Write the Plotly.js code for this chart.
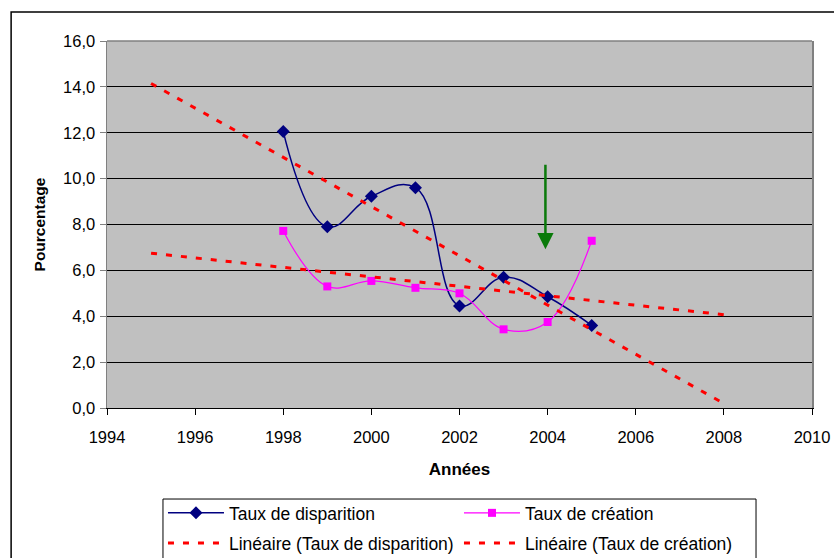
<!DOCTYPE html>
<html>
<head>
<meta charset="utf-8">
<script src="https://cdn.plot.ly/plotly-3.0.1.min.js"></script>
<style>html,body{margin:0;padding:0;background:#fff;}#chart{width:834px;height:558px;}</style>
</head>
<body>
<div id="chart"></div>
<script>
var years = [1998, 1999, 2000, 2001, 2002, 2003, 2004, 2005];
var tauxDisparition = [12.05, 7.90, 9.23, 9.60, 4.45, 5.70, 4.85, 3.60];
var tauxCreation = [7.72, 5.30, 5.54, 5.24, 5.00, 3.43, 3.75, 7.29];
var trendYears = [1995, 2008];
var arrowFrom = [2003.95, 10.67];
var arrowTo = [2003.95, 6.92];

function linFit(xs, ys) {
  var n = xs.length, mx = 0, my = 0;
  for (var i = 0; i < n; i++) { mx += xs[i]; my += ys[i]; }
  mx /= n; my /= n;
  var sxy = 0, sxx = 0;
  for (var j = 0; j < n; j++) { sxy += (xs[j]-mx)*(ys[j]-my); sxx += (xs[j]-mx)*(xs[j]-mx); }
  var b = sxy / sxx, a = my - b*mx;
  return function(x){ return a + b*x; };
}
var fD = linFit(years, tauxDisparition);
var fC = linFit(years, tauxCreation);

var font = "Liberation Sans, Arial, sans-serif";
var traces = [
  {x: years, y: tauxDisparition, name: 'Taux de disparition', type: 'scatter', mode: 'lines+markers',
   line: {color: '#000080', width: 1.5, shape: 'spline', smoothing: 1.2},
   marker: {symbol: 'diamond', size: 10, color: '#000080'}, legend: 'legend'},
  {x: years, y: tauxCreation, name: 'Taux de création', type: 'scatter', mode: 'lines+markers',
   line: {color: '#ff00ff', width: 1.2, shape: 'spline', smoothing: 1.1},
   marker: {symbol: 'square', size: 8, color: '#ff00ff'}, legend: 'legend'},
  {x: trendYears, y: trendYears.map(fD), name: 'Linéaire (Taux de disparition)', type: 'scatter', mode: 'lines',
   line: {color: '#ff0000', width: 3, dash: '6px,9px'}, legend: 'legend2'},
  {x: trendYears, y: trendYears.map(fC), name: 'Linéaire (Taux de création)', type: 'scatter', mode: 'lines',
   line: {color: '#ff0000', width: 3, dash: '6px,9px'}, legend: 'legend2'}
];

var legendCommon = {orientation: 'h', xanchor: 'left', yanchor: 'top', bgcolor: 'rgba(0,0,0,0)',
  borderwidth: 0, font: {family: font, size: 17.5, color: '#000'}, entrywidth: 225, entrywidthmode: 'pixels',
  itemwidth: 56, traceorder: 'normal', itemclick: false};

var layout = {
  width: 834, height: 558,
  margin: {l: 107, r: 22, t: 41, b: 150, autoexpand: false},
  paper_bgcolor: '#ffffff', plot_bgcolor: '#c0c0c0',
  separators: ',.',
  font: {family: font, size: 16, color: '#000'},
  showlegend: true,
  xaxis: {range: [1994, 2010], dtick: 2, tick0: 1994, showgrid: false, zeroline: false, automargin: false,
    showline: true, linecolor: '#000', linewidth: 1, ticks: 'outside', ticklen: 6, tickcolor: '#000',
    ticklabelstandoff: 8, tickfont: {size: 16.5},
    title: {text: 'Années', font: {size: 17, weight: 'bold'}, standoff: 18}},
  yaxis: {range: [0, 16], dtick: 2, tickformat: '.1f', showgrid: true, gridcolor: '#000', gridwidth: 1,
    zeroline: false, showline: true, mirror: true, linecolor: '#808080', linewidth: 1.5, automargin: false,
    ticks: 'outside', ticklen: 6, tickcolor: '#808080', tickfont: {size: 16.5}, ticklabelstandoff: 1,
    title: {text: 'Pourcentage', font: {size: 15.5, weight: 'bold'}, standoff: 13}},
  legend: Object.assign({}, legendCommon, {x: 0.0794, y: -0.237}),
  legend2: Object.assign({}, legendCommon, {x: 0.0794, y: -0.319}),
  shapes: [
    {type: 'line', xref: 'paper', yref: 'paper', x0: 0, x1: 1, y0: 1, y1: 1, line: {color: '#808080', width: 1.5}},
    {type: 'rect', xref: 'paper', yref: 'paper', x0: -0.136, x1: 1.2, y0: -1, y1: 1.079, line: {color: '#000', width: 1.5}},
    {type: 'rect', xref: 'paper', yref: 'paper', x0: 0.0794, x1: 0.9206, y0: -1, y1: -0.248, line: {color: '#000', width: 1}}
  ],
  annotations: [
    {x: arrowTo[0], y: arrowTo[1], ax: arrowFrom[0], ay: arrowFrom[1], axref: 'x', ayref: 'y', xref: 'x', yref: 'y',
     text: '', showarrow: true, arrowhead: 2, arrowsize: 1.3, arrowwidth: 2.5, arrowcolor: '#0a7a0a'}
  ]
};

Plotly.newPlot('chart', traces, layout, {displayModeBar: false, staticPlot: true});
</script>
</body>
</html>
